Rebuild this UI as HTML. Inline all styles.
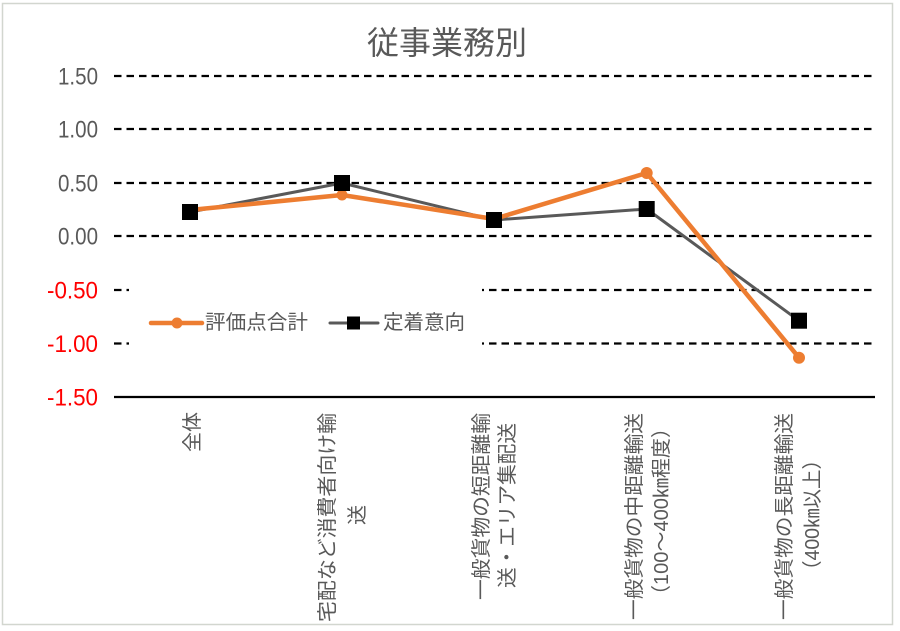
<!DOCTYPE html>
<html>
<head>
<meta charset="utf-8">
<style>
html,body{margin:0;padding:0;background:#fff;}
body{width:900px;height:631px;overflow:hidden;}
svg{display:block;}
.cj{font-family:"Liberation Sans","Noto Sans CJK JP",sans-serif;fill:#595959;}
.yl{font-family:"Liberation Sans",sans-serif;font-size:24px;}
</style>
</head>
<body>
<svg width="900" height="631" viewBox="0 0 900 631" xmlns="http://www.w3.org/2000/svg">
  <rect x="0" y="0" width="900" height="631" fill="#fff"/>
  <!-- chart frame -->
  <rect x="2.5" y="3.5" width="890" height="621" fill="none" stroke="#d2d6cf" stroke-width="1.5"/>

  <!-- title -->
  <text class="cj" x="447" y="43" font-size="32" text-anchor="middle" dominant-baseline="central" textLength="160" lengthAdjust="spacingAndGlyphs">従事業務別</text>

  <!-- gridlines -->
  <g stroke="#000" stroke-width="2.3" stroke-dasharray="7.5 5" fill="none">
    <line x1="114" y1="76" x2="873" y2="76"/>
    <line x1="114" y1="129" x2="873" y2="129"/>
    <line x1="114" y1="183" x2="873" y2="183"/>
    <line x1="114" y1="236" x2="873" y2="236"/>
    <line x1="114" y1="290" x2="873" y2="290"/>
    <line x1="114" y1="343.5" x2="873" y2="343.5"/>
  </g>
  <line x1="114" y1="397" x2="875" y2="397" stroke="#000" stroke-width="2.3"/>

  <!-- y labels -->
  <g class="yl" text-anchor="end" dominant-baseline="central">
    <text x="98" y="77" fill="#595959" textLength="40" lengthAdjust="spacingAndGlyphs">1.50</text>
    <text x="98" y="130" fill="#595959" textLength="40" lengthAdjust="spacingAndGlyphs">1.00</text>
    <text x="98" y="184" fill="#595959" textLength="40" lengthAdjust="spacingAndGlyphs">0.50</text>
    <text x="98" y="237" fill="#595959" textLength="40" lengthAdjust="spacingAndGlyphs">0.00</text>
    <text x="98" y="291" fill="#ff0000" textLength="51" lengthAdjust="spacingAndGlyphs">-0.50</text>
    <text x="98" y="344.5" fill="#ff0000" textLength="51" lengthAdjust="spacingAndGlyphs">-1.00</text>
    <text x="98" y="398" fill="#ff0000" textLength="51" lengthAdjust="spacingAndGlyphs">-1.50</text>
  </g>

  <!-- legend box -->
  <rect x="129" y="282" width="353" height="70" fill="#fff"/>
  <line x1="151" y1="323" x2="202" y2="323" stroke="#ed7d31" stroke-width="4.5" stroke-linecap="round"/>
  <circle cx="177" cy="323" r="5.5" fill="#ed7d31"/>
  <text class="cj" x="205" y="323" font-size="20" dominant-baseline="central" textLength="103" lengthAdjust="spacingAndGlyphs">評価点合計</text>
  <line x1="330" y1="323" x2="378" y2="323" stroke="#595959" stroke-width="3" stroke-linecap="round"/>
  <rect x="347" y="316.5" width="13" height="13" fill="#000"/>
  <text class="cj" x="383" y="323" font-size="20" dominant-baseline="central" textLength="82" lengthAdjust="spacingAndGlyphs">定着意向</text>

  <!-- series lines -->
  <polyline points="190,212 342,183 494,220 646.7,209 799,320.7" fill="none" stroke="#595959" stroke-width="3" stroke-linejoin="round"/>
  <polyline points="190,210 342,195 494,219 646.7,173 799,357.7" fill="none" stroke="#ed7d31" stroke-width="4.5" stroke-linejoin="round"/>
  <!-- orange markers -->
  <g fill="#ed7d31">
    <circle cx="190" cy="210" r="5.5"/>
    <circle cx="342" cy="195" r="5.5"/>
    <circle cx="494" cy="219" r="5.5"/>
    <circle cx="646.7" cy="173" r="6"/>
    <circle cx="799" cy="357.7" r="6"/>
  </g>
  <!-- black markers -->
  <g fill="#000">
    <rect x="182" y="204" width="16" height="16"/>
    <rect x="334" y="175" width="16" height="16"/>
    <rect x="486" y="212" width="16" height="16"/>
    <rect x="638.7" y="201" width="16" height="16"/>
    <rect x="791" y="312.7" width="16" height="16"/>
  </g>

  <!-- x labels (rotated) -->
  <g class="cj" font-size="20" text-anchor="middle" dominant-baseline="central">
    <text transform="translate(193,432) rotate(-90)" textLength="40" lengthAdjust="spacingAndGlyphs">全体</text>
    <text transform="translate(328,517.5) rotate(-90)" textLength="209" lengthAdjust="spacingAndGlyphs">宅配など消費者向け輸</text>
    <text transform="translate(358,515) rotate(-90)">送</text>
    <text transform="translate(482,506.5) rotate(-90)" textLength="187" lengthAdjust="spacingAndGlyphs">一般貨物の短距離輸</text>
    <text transform="translate(508,505.5) rotate(-90)" textLength="165" lengthAdjust="spacingAndGlyphs">送・エリア集配送</text>
    <text transform="translate(635,516.5) rotate(-90)" textLength="207" lengthAdjust="spacingAndGlyphs">一般貨物の中距離輸送</text>
    <text transform="translate(662,511.5) rotate(-90)" textLength="187" lengthAdjust="spacingAndGlyphs">（100～400㎞程度）</text>
    <text transform="translate(785,516.5) rotate(-90)" textLength="207" lengthAdjust="spacingAndGlyphs">一般貨物の長距離輸送</text>
    <text transform="translate(813,515) rotate(-90)" textLength="130" lengthAdjust="spacingAndGlyphs">（400㎞以上）</text>
  </g>
</svg>
</body>
</html>
